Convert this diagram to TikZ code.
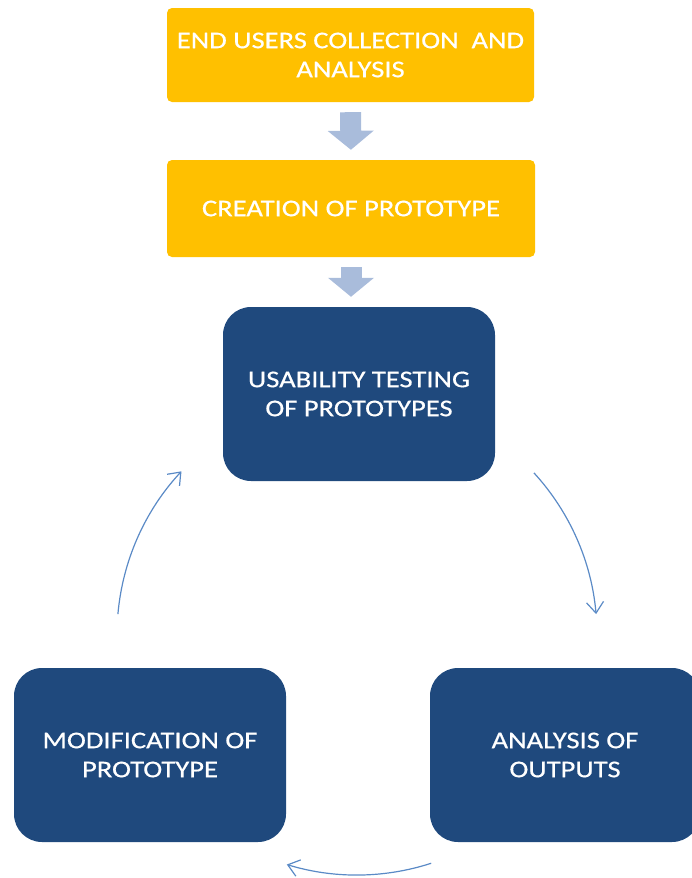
\documentclass[tikz,border=0pt]{standalone}
\usepackage{fontspec}
\setmainfont{Carlito}[FakeStretch=1.19,FakeBold=0.5]
\usepackage{tikz}
\usetikzlibrary{arrows.meta,calc}
\definecolor{stageyellow}{HTML}{FFC000}
\definecolor{loopblue}{HTML}{1F497D}
\definecolor{pipeblue}{HTML}{A9BCDB}
\definecolor{turnblue}{HTML}{5A8AC6}
\tikzstyle{stage} = [shape=rectangle,rounded corners=5pt,fill=stageyellow,text=white,align=center,font=\fontsize{24}{29}\selectfont]
\tikzstyle{loop}  = [shape=rectangle,rounded corners=28pt,fill=loopblue,text=white,align=center,minimum width=272pt,minimum height=174pt,font=\fontsize{24}{29}\selectfont]
\tikzstyle{pipe}  = [draw=pipeblue,line width=21pt,-{Triangle[length=19pt,width=45pt]},shorten <=10pt,shorten >=10pt]
\tikzstyle{turn}  = [draw=turnblue,line width=1.2pt,-{Straight Barb[length=11pt,width=17pt]}]

\begin{document}
\begin{tikzpicture}[x=1pt,y=1pt]
  \useasboundingbox (0,0) rectangle (691,-878);

  % Preparation steps
  \node[stage,minimum width=367pt,minimum height=94pt] (gather) at (350.5,-55) {END USERS COLLECTION \ AND\\ANALYSIS};
  \node[stage,minimum width=368pt,minimum height=97pt] (creation) at (351,-208.5) {CREATION OF PROTOTYPE};

  % Test cycle
  \node[loop] (testing) at (359,-394) {USABILITY TESTING\\OF PROTOTYPES};
  \node[loop,minimum width=270pt] (outputs) at (565,-755) {ANALYSIS OF\\OUTPUTS};
  \node[loop] (modify) at (150,-755) {MODIFICATION OF\\PROTOTYPE};

  % Block arrows between steps
  \draw[pipe] (gather.south) -- (creation.north);
  \draw[pipe] (creation.south) -- (creation.south |- testing.north);

  % Round arrows of the cycle
  \coordinate (hub) at (357,-635);
  \draw[turn] ($(hub)+(42.5:240)$) arc[start angle=42.5,end angle=5,radius=240];
  \draw[turn] ($(hub)+(-72:240)$) arc[start angle=-72,end angle=-107,radius=240];
  \draw[turn] ($(hub)+(175:240)$) arc[start angle=175,end angle=137,radius=240];
\end{tikzpicture}
\end{document}
